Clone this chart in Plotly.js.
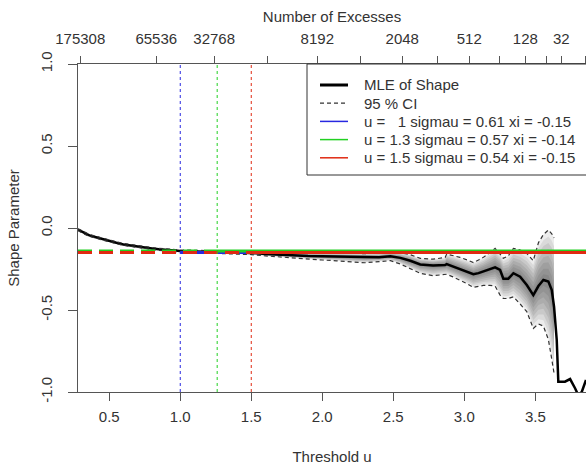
<!DOCTYPE html>
<html><head><meta charset="utf-8">
<script src="https://cdn.plot.ly/plotly-3.0.1.min.js"></script>
<style>html,body{margin:0;padding:0;background:#fff;} #chart{width:586px;height:468px;}</style>
</head><body><div id="chart"></div>
<script>
// Threshold grid (u) and estimates
const thresholdU = [0.28,0.32,0.36,0.40,0.45,0.50,0.55,0.60,0.65,0.70,0.75,0.80,0.85,0.90,0.95,1.00,1.10,1.20,1.30,1.40,1.50,1.60,1.70,1.80,1.90,2.00,2.10,2.20,2.30,2.40,2.48,2.55,2.62,2.69,2.78,2.865,2.876,2.92,2.97,3.02,3.064,3.10,3.134,3.18,3.217,3.252,3.275,3.31,3.346,3.393,3.44,3.486,3.522,3.557,3.592,3.616,3.632,3.651,3.662,3.709,3.745,3.78,3.803,3.827,3.857];
const mleShape = [-0.01,-0.03,-0.045,-0.055,-0.068,-0.08,-0.09,-0.10,-0.107,-0.114,-0.12,-0.125,-0.13,-0.134,-0.137,-0.14,-0.143,-0.145,-0.148,-0.15,-0.152,-0.158,-0.163,-0.167,-0.17,-0.172,-0.174,-0.176,-0.179,-0.178,-0.172,-0.182,-0.2,-0.222,-0.228,-0.226,-0.22,-0.235,-0.252,-0.268,-0.282,-0.275,-0.266,-0.252,-0.24,-0.256,-0.309,-0.309,-0.276,-0.297,-0.348,-0.409,-0.354,-0.317,-0.327,-0.378,-0.48,-0.683,-0.937,-0.937,-0.921,-0.977,-1.02,-1.0,-0.927];
const ciUpper = [-0.005,-0.024,-0.039,-0.049,-0.062,-0.074,-0.084,-0.094,-0.101,-0.108,-0.114,-0.119,-0.124,-0.128,-0.131,-0.134,-0.136,-0.138,-0.14,-0.141,-0.142,-0.146,-0.149,-0.151,-0.152,-0.153,-0.154,-0.155,-0.156,-0.153,-0.146,-0.15,-0.163,-0.185,-0.19,-0.18,-0.159,-0.168,-0.179,-0.195,-0.211,-0.195,-0.179,-0.15,-0.124,-0.159,-0.185,-0.17,-0.124,-0.134,-0.155,-0.199,-0.09,-0.04,-0.012,-0.035,-0.06,null,null,null,null,null,null,null,null];
const ciLower = [-0.015,-0.036,-0.051,-0.061,-0.074,-0.086,-0.096,-0.106,-0.113,-0.12,-0.126,-0.131,-0.136,-0.14,-0.143,-0.146,-0.15,-0.152,-0.156,-0.159,-0.162,-0.17,-0.177,-0.183,-0.19,-0.195,-0.2,-0.205,-0.212,-0.205,-0.199,-0.22,-0.246,-0.276,-0.291,-0.285,-0.282,-0.298,-0.317,-0.34,-0.362,-0.355,-0.35,-0.35,-0.354,-0.409,-0.43,-0.43,-0.42,-0.463,-0.51,-0.612,-0.585,-0.598,-0.68,-0.8,-0.886,null,null,null,null,null,null,null,null];

// Top axis: number of excesses
const excessTickU = [0.296,0.831,1.239,1.613,1.965,2.268,2.563,2.81,3.035,3.246,3.43,3.577,3.683,3.852];
const excessLabels = ['175308','65536','32768','','8192','','2048','','512','','128','','32',''];

// Selected thresholds
const selU = [1, 1.26, 1.5];
const selULabel = ['\u00a0\u00a01', '1.3', '1.5'];
const selSigma = ['0.61', '0.57', '0.54'];
const selXi = [-0.15, -0.14, -0.15];
const selXiLabel = ['-0.15', '-0.14', '-0.15'];
const selColors = ['#2828e0', '#22d022', '#e02a12'];

const xTickVals = [0.5,1,1.5,2,2.5,3,3.5];
const xTickText = ['0.5','1.0','1.5','2.0','2.5','3.0','3.5'];
const yTickVals = [-1,-0.5,0,0.5,1];
const yTickText = ['-1.0','-0.5','0.0','0.5','1.0'];

const xRange = [0.28, 3.857];
const FONT = 'Liberation Sans, Arial, sans-serif';
const TXT = '#333';
const AX = '#555';

// plot-area geometry (px) used for the hand-drawn legend
const M = {l: 78, r: 0, t: 64, b: 76};
const PW = 586 - M.l - M.r, PH = 468 - M.t - M.b;
const px2x = p => (p - M.l) / PW;
const py2y = p => (468 - M.b - p) / PH;

const traces = [];
// gradient-like shading of the CI around the MLE
[1, 0.875, 0.75, 0.625, 0.5, 0.375, 0.25, 0.125].forEach(k => {
  const lo = mleShape.map((m, i) => ciLower[i] == null ? null : m + k * (ciLower[i] - m));
  const hi = mleShape.map((m, i) => ciUpper[i] == null ? null : m + k * (ciUpper[i] - m));
  traces.push({x: thresholdU, y: lo, mode: 'lines', line: {width: 0, color: 'rgba(0,0,0,0)'}, showlegend: false, hoverinfo: 'skip'});
  traces.push({x: thresholdU, y: hi, mode: 'lines', line: {width: 0, color: 'rgba(0,0,0,0)'}, fill: 'tonexty', fillcolor: 'rgba(0,0,0,0.075)', showlegend: false, hoverinfo: 'skip'});
});

traces.push({x: thresholdU, y: mleShape, mode: 'lines', name: 'MLE of Shape', showlegend: false, line: {color: '#000', width: 2.5}});
traces.push({x: thresholdU, y: ciUpper, mode: 'lines', name: '95 % CI', showlegend: false, line: {color: '#333', width: 1.2, dash: '4px,3px'}});
traces.push({x: thresholdU, y: ciLower, mode: 'lines', name: '95 % CI', showlegend: false, line: {color: '#333', width: 1.2, dash: '4px,3px'}});

selU.forEach((u, i) => {
  traces.push({x: [xRange[0], u], y: [selXi[i], selXi[i]], mode: 'lines', showlegend: false, line: {color: selColors[i], width: 3, dash: '14px,7px'}, hoverinfo: 'skip'});
  traces.push({x: [u, xRange[1]], y: [selXi[i], selXi[i]], mode: 'lines', showlegend: false, line: {color: selColors[i], width: 3}, hoverinfo: 'skip'});
});
// dummy trace to activate top axis
traces.push({x: [xRange[0]], y: [null], xaxis: 'x2', mode: 'markers', showlegend: false, hoverinfo: 'skip'});

const shapes = selU.map((u, i) => ({type: 'line', xref: 'x', yref: 'paper', x0: u, x1: u, y0: 0, y1: 1, line: {color: selColors[i], width: 1, dash: 'dot'}, layer: 'above'}));

// Legend (box, samples, labels)
const legendNames = ['MLE of Shape', '95 % CI'].concat(selU.map((u, i) => 'u = ' + selULabel[i] + ' sigmau = ' + selSigma[i] + ' xi = ' + selXiLabel[i]));
const legendLines = [{color: '#000', width: 3}, {color: '#333', width: 1.2, dash: '4px,3px'}].concat(selColors.map(c => ({color: c, width: 1.5})));
const legTop = 64, legBottom = 175, legLeft = 307, rowH = 18.2, row0 = 85;
shapes.push({type: 'rect', xref: 'paper', yref: 'paper', x0: px2x(legLeft), x1: px2x(600), y0: py2y(legBottom), y1: py2y(legTop), fillcolor: '#fff', line: {color: '#333', width: 1}, layer: 'above'});
const annotations = [];
legendNames.forEach((name, i) => {
  const yc = row0 + i * rowH;
  shapes.push({type: 'line', xref: 'paper', yref: 'paper', x0: px2x(320), x1: px2x(348), y0: py2y(yc), y1: py2y(yc), line: legendLines[i], layer: 'above'});
  annotations.push({xref: 'paper', yref: 'paper', x: px2x(362), y: py2y(yc), xanchor: 'left', yanchor: 'middle', showarrow: false, text: name, font: {family: FONT, size: 15, color: TXT}});
});

const layout = {
  width: 586, height: 468,
  margin: M,
  paper_bgcolor: '#fff', plot_bgcolor: '#fff',
  font: {family: FONT, size: 15, color: TXT},
  showlegend: false,
  xaxis: {range: xRange, tickvals: xTickVals, ticktext: xTickText, ticks: 'outside', ticklen: 8, tickcolor: AX, showline: true, linecolor: AX, linewidth: 1, showgrid: false, zeroline: false, ticklabelstandoff: 3,
    title: {text: 'Threshold u', font: {family: FONT, size: 15, color: TXT}, standoff: 27}},
  xaxis2: {range: xRange, overlaying: 'x', side: 'top', tickvals: excessTickU, ticktext: excessLabels, ticks: 'outside', ticklen: 7, tickcolor: AX, showline: true, linecolor: AX, linewidth: 1, showgrid: false, zeroline: false, ticklabelstandoff: 6,
    title: {text: 'Number of Excesses', font: {family: FONT, size: 15, color: TXT}, standoff: 3}},
  yaxis: {range: [-1, 1], tickvals: yTickVals, ticktext: yTickText, tickangle: -90, ticks: 'outside', ticklen: 9, tickcolor: AX, showline: true, linecolor: AX, linewidth: 1, showgrid: false, zeroline: false, ticklabelstandoff: 10,
    title: {text: 'Shape Parameter', font: {family: FONT, size: 15, color: TXT}, standoff: 14}},
  shapes: shapes,
  annotations: annotations
};

Plotly.newPlot('chart', traces, layout, {displayModeBar: false, staticPlot: true});
</script>
</body></html>
